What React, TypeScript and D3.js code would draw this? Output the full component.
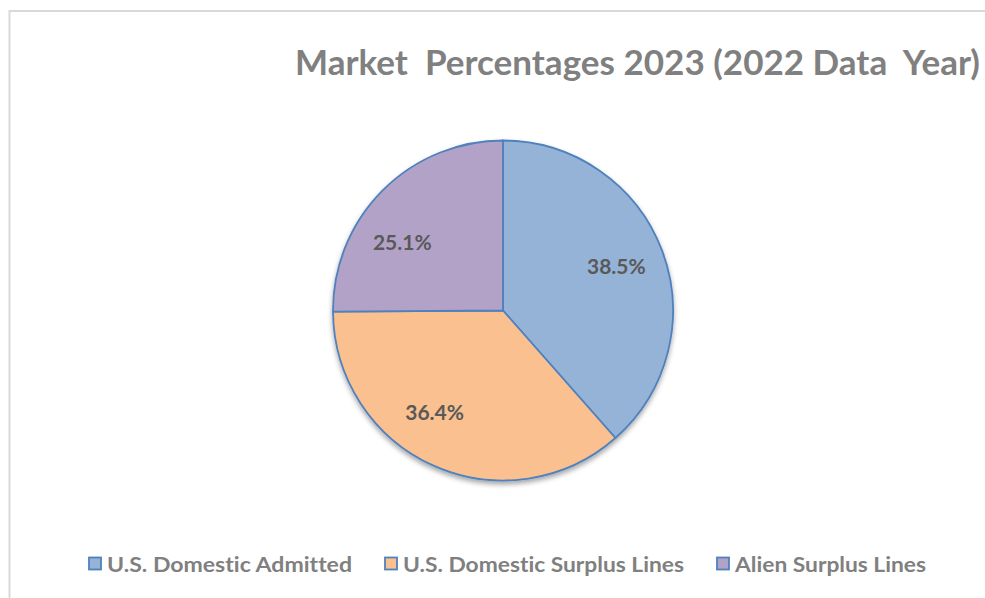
import React, { useEffect, useRef } from "react";
import * as d3 from "d3";

const categories = ["U.S. Domestic Admitted", "U.S. Domestic Surplus Lines", "Alien Surplus Lines"];
const values = [38.5, 36.4, 25.1];
const colors = ["#95B3D7", "#FAC090", "#B3A2C7"];
const titleText = "Market  Percentages 2023 (2022 Data  Year)";

// layout
const W = 985, H = 598;
const CX = 503, CY = 310.5, R = 170;
const LABEL_R = 122;
const labelAngleShiftDeg = [-1, 10, -10.5];
const legendTextWidths = [245, 281, 191];
const FONT = "Lato, 'Open Sans', sans-serif";

export default function App() {
  const ref = useRef<SVGSVGElement>(null);

  useEffect(() => {
    const svg = d3.select(ref.current);
    svg.selectAll("*").remove();

    const defs = svg.append("defs");
    const f = defs.append("filter").attr("id", "sh").attr("x", "-20%").attr("y", "-20%").attr("width", "140%").attr("height", "140%");
    f.append("feDropShadow").attr("dx", 0).attr("dy", 3).attr("stdDeviation", 2.5).attr("flood-color", "#000").attr("flood-opacity", 0.35);

    svg.append("rect").attr("x", 0).attr("y", 0).attr("width", W).attr("height", H).attr("fill", "#fff");
    svg.append("rect").attr("x", 9.5).attr("y", 11).attr("width", W + 20).attr("height", H + 20)
      .attr("fill", "none").attr("stroke", "#D9D9D9").attr("stroke-width", 2);

    svg.append("text").attr("x", 295).attr("y", 75)
      .attr("font-family", FONT).attr("font-weight", 700).attr("font-size", 34)
      .attr("textLength", 685).attr("lengthAdjust", "spacingAndGlyphs")
      .attr("fill", "#808080").style("white-space", "pre").style("font-variant-ligatures", "none")
      .text(titleText);

    const pie = d3.pie<number>().sort(null).value(d => d);
    const arcs = pie(values);
    const arc = d3.arc<d3.PieArcDatum<number>>().innerRadius(0).outerRadius(R);

    const g = svg.append("g").attr("transform", `translate(${CX},${CY})`);
    const gs = g.append("g").attr("filter", "url(#sh)");
    gs.selectAll("path").data(arcs).enter().append("path")
      .attr("d", arc as any).attr("fill", (_, i) => colors[i])
      .attr("stroke", "#4F81BD").attr("stroke-width", 1.8).attr("stroke-linejoin", "round");

    g.selectAll("text.lbl").data(arcs).enter().append("text").attr("class", "lbl")
      .each(function (d, i) {
        const a = (d.startAngle + d.endAngle) / 2 + (labelAngleShiftDeg[i] * Math.PI) / 180;
        d3.select(this).attr("x", LABEL_R * Math.sin(a)).attr("y", -LABEL_R * Math.cos(a));
      })
      .attr("text-anchor", "middle").attr("dominant-baseline", "central")
      .attr("font-family", FONT).attr("font-weight", 700).attr("font-size", 21)
      .attr("fill", "#595959").text(d => d3.format(".1f")(d.data) + "%");

    const lg = svg.append("g");
    const box = 12, boxGap = 6, itemGap = 33;
    let x = 89;
    categories.forEach((c, i) => {
      const it = lg.append("g").attr("transform", `translate(${x},563.5)`);
      it.append("rect").attr("width", box).attr("height", box).attr("y", -box / 2)
        .attr("fill", colors[i]).attr("stroke", "#4F81BD").attr("stroke-width", 1.8);
      it.append("text").attr("x", box + boxGap).attr("y", 0).attr("dominant-baseline", "central")
        .attr("font-family", FONT).attr("font-weight", 700).attr("font-size", 21)
        .attr("textLength", legendTextWidths[i]).attr("lengthAdjust", "spacingAndGlyphs")
        .style("font-variant-ligatures", "none")
        .attr("fill", "#808080").text(c);
      x += box + boxGap + legendTextWidths[i] + itemGap;
    });
  }, []);

  return (
    <svg ref={ref} width={W} height={H} style={{ position: "absolute", left: 0, top: 0, display: "block" }} />
  );
}
